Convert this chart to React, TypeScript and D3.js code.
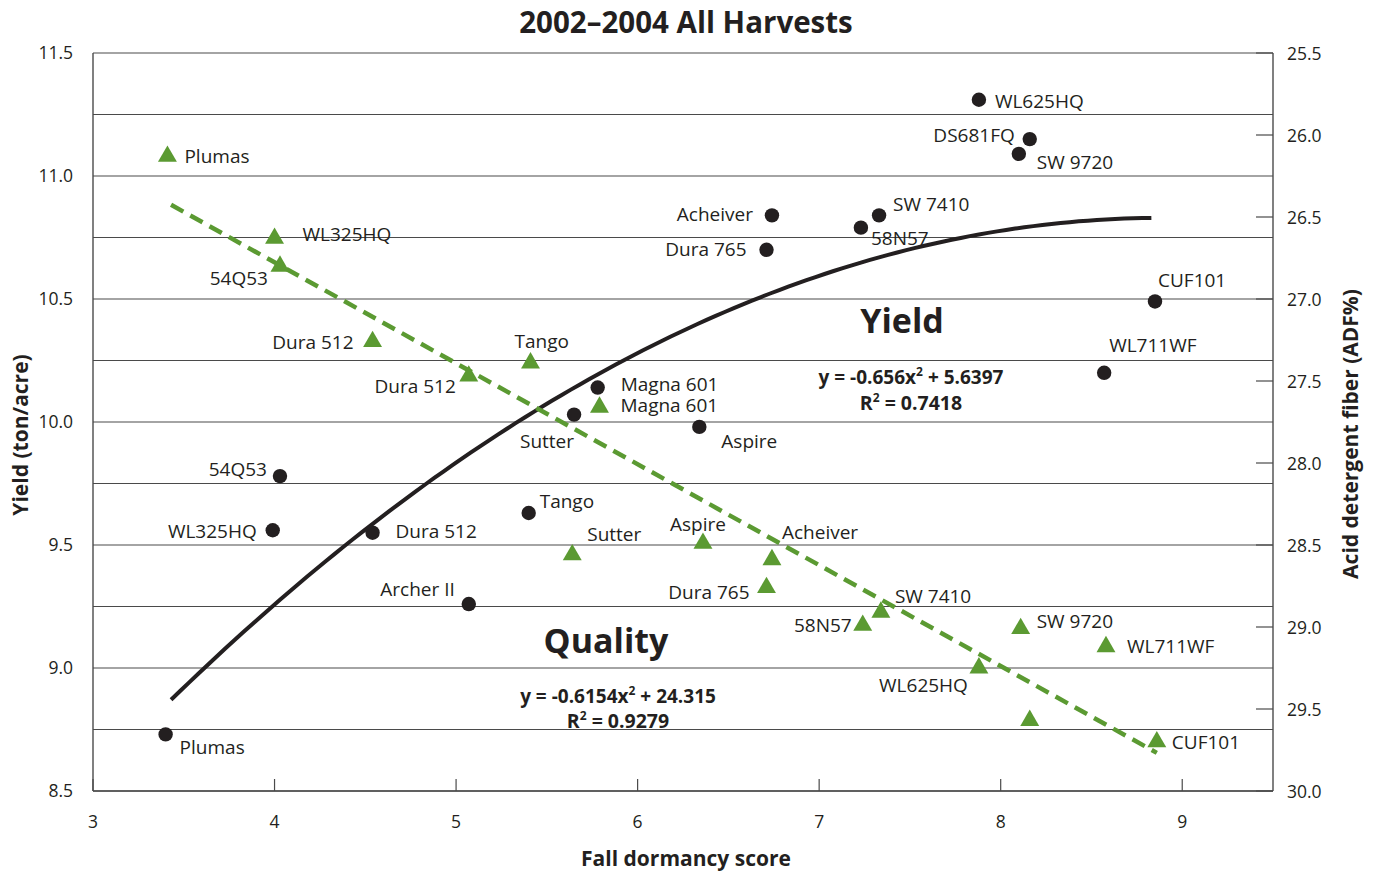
import React from "react";
import * as d3 from "d3";

// ---------- DATA ----------
const xTicks = [3, 4, 5, 6, 7, 8, 9];
const yieldTicks = [8.5, 9.0, 9.5, 10.0, 10.5, 11.0, 11.5];
const adfTicks = [25.5, 26.0, 26.5, 27.0, 27.5, 28.0, 28.5, 29.0, 29.5, 30.0];
const gridValues = [8.5, 8.75, 9.0, 9.25, 9.5, 9.75, 10.0, 10.25, 10.5, 10.75, 11.0, 11.25, 11.5];

const yieldNames = ["Plumas", "WL325HQ", "54Q53", "Dura 512", "Archer II", "Tango", "Sutter", "Magna 601", "Aspire", "Dura 765", "Acheiver", "58N57", "SW 7410", "WL625HQ", "DS681FQ", "SW 9720", "CUF101", "WL711WF"];
const yieldDormancy = [3.40, 3.99, 4.03, 4.54, 5.07, 5.40, 5.65, 5.78, 6.34, 6.71, 6.74, 7.23, 7.33, 7.88, 8.16, 8.10, 8.85, 8.57];
const yieldValues = [8.73, 9.56, 9.78, 9.55, 9.26, 9.63, 10.03, 10.14, 9.98, 10.70, 10.84, 10.79, 10.84, 11.31, 11.15, 11.09, 10.49, 10.20];

const qualityNames = ["Plumas", "WL325HQ", "54Q53", "Dura 512", "Dura 512", "Tango", "Magna 601", "Sutter", "Aspire", "Acheiver", "Dura 765", "58N57", "SW 7410", "WL625HQ", "SW 9720", "", "WL711WF", "CUF101"];
const qualityDormancy = [3.41, 4.00, 4.03, 4.54, 5.07, 5.41, 5.79, 5.64, 6.36, 6.74, 6.71, 7.24, 7.34, 7.88, 8.11, 8.16, 8.58, 8.86];
const qualityADF = [26.13, 26.63, 26.80, 27.26, 27.47, 27.39, 27.66, 28.56, 28.49, 28.59, 28.76, 28.99, 28.91, 29.25, 29.01, 29.57, 29.12, 29.70];

// trendline coefficients (yield quadratic, ADF linear) and their x-range
const yieldFit = [-0.0656, 1.167, 5.6397];
const qualityFit = [0.6154, 24.315];
const fitRange = [3.43, 8.86];

// label placement (offset from marker, text-anchor)
const yieldLabelPos: [number, number, string][] = [
  [14, 20, "start"], [-16, 8, "end"], [-13, 0, "end"], [23, 5, "start"], [-14, -8, "end"],
  [11, -5, "start"], [0, 33, "end"], [23, 3, "start"], [22, 21, "start"], [-20, 6, "end"],
  [-19, 6, "end"], [10, 17, "start"], [14, -4, "start"], [16, 8, "start"], [-15, 3, "end"],
  [18, 15, "start"], [3, -14, "start"], [5, -21, "start"],
];
const qualityLabelPos: [number, number, string][] = [
  [17, 7, "start"], [28, 3, "start"], [-12, 19, "end"], [-19, 7, "end"], [-13, 17, "end"],
  [-16, -15, "start"], [21, 5, "start"], [15, -14, "start"], [-33, -12, "start"], [10, -21, "start"],
  [-17, 11, "end"], [-11, 7, "end"], [14, -9, "start"], [-11, 24, "end"], [16, -1, "start"],
  [0, 0, "start"], [21, 6, "start"], [15, 7, "start"],
];

// ---------- LAYOUT ----------
const W = 1375, H = 871;
const L = 93, R = 1273, T = 53, B = 791;
const FONT = "'Open Sans', 'Noto Sans', sans-serif";
const INK = "#231f20";
const GREEN = "#5b9a32";
const GRID = "#4a4a4a";
const LABEL_SIZE = 19;

export default function App() {
  const x = d3.scaleLinear().domain([3, 9.5]).range([L, R]);
  const yL = d3.scaleLinear().domain([8.5, 11.5]).range([B, T]);
  const yR = d3.scaleLinear().domain([25.5, 30]).range([T, B]);

  const fitXs = d3.range(fitRange[0], fitRange[1] + 0.0001, 0.05);
  const yieldCurve = d3.line<number>()
    .x((d) => x(d))
    .y((d) => yL(yieldFit[0] * d * d + yieldFit[1] * d + yieldFit[2]))(fitXs) as string;
  const qualityLine = d3.line<number>()
    .x((d) => x(d))
    .y((d) => yR(qualityFit[0] * d + qualityFit[1]))([fitRange[0], fitRange[1]]) as string;

  const tri = d3.symbol().type(d3.symbolTriangle).size(155)() as string;

  return (
    <svg width={W} height={H} style={{ position: "absolute", left: 0, top: 0, background: "#fff" }} fontFamily={FONT}>
      {/* title */}
      <text x={686} y={33} textAnchor="middle" fontSize={29.5} fontWeight={700} fill={INK}>
        2002–2004 All Harvests
      </text>

      {/* grid lines */}
      {gridValues.map((v, i) => (
        <line key={"g" + i} x1={L} x2={R} y1={yL(v)} y2={yL(v)} stroke={GRID} strokeWidth={1.2} />
      ))}
      {/* frame */}
      <line x1={L} x2={L} y1={T} y2={B} stroke={GRID} strokeWidth={1.4} />
      <line x1={R} x2={R} y1={T} y2={B} stroke={GRID} strokeWidth={1.4} />
      <line x1={L} x2={R} y1={B} y2={B} stroke={GRID} strokeWidth={1.6} />

      {/* x ticks */}
      {xTicks.map((t) => (
        <g key={"xt" + t}>
          <line x1={x(t)} x2={x(t)} y1={B} y2={B - 12} stroke={GRID} strokeWidth={1.2} />
          <text x={x(t)} y={828} textAnchor="middle" fontSize={17.5} fill={INK}>{t}</text>
        </g>
      ))}
      {/* left tick labels */}
      {yieldTicks.map((t) => (
        <text key={"yl" + t} x={73} y={yL(t) + 6} textAnchor="end" fontSize={17.5} fill={INK}>{t.toFixed(1)}</text>
      ))}
      {/* right ticks */}
      {adfTicks.map((t) => (
        <g key={"yr" + t}>
          <line x1={R - 17} x2={R} y1={yR(t)} y2={yR(t)} stroke={GRID} strokeWidth={1.2} />
          <text x={1287} y={yR(t) + 7} textAnchor="start" fontSize={17.5} fill={INK}>{t.toFixed(1)}</text>
        </g>
      ))}

      {/* axis titles */}
      <text x={686} y={866} textAnchor="middle" fontSize={21} fontWeight={700} fill={INK}>Fall dormancy score</text>
      <text transform="translate(28,435) rotate(-90)" textAnchor="middle" fontSize={21} fontWeight={700} fill={INK}>Yield (ton/acre)</text>
      <text transform="translate(1358,434) rotate(-90)" textAnchor="middle" fontSize={21} fontWeight={700} fill={INK}>Acid detergent fiber (ADF%)</text>

      {/* trend lines */}
      <path d={yieldCurve} fill="none" stroke={INK} strokeWidth={4} />
      <path d={qualityLine} fill="none" stroke={GREEN} strokeWidth={4.5} strokeDasharray="14 8" />

      {/* yield points */}
      {yieldNames.map((n, i) => {
        const cx = x(yieldDormancy[i]);
        const cy = yL(yieldValues[i]);
        const [dx, dy, anchor] = yieldLabelPos[i];
        return (
          <g key={"yp" + i}>
            <circle cx={cx} cy={cy} r={7.2} fill={INK} />
            <text x={cx + dx} y={cy + dy} textAnchor={anchor as any} fontSize={LABEL_SIZE} fill={INK}>{n}</text>
          </g>
        );
      })}

      {/* quality points */}
      {qualityNames.map((n, i) => {
        const cx = x(qualityDormancy[i]);
        const cy = yR(qualityADF[i]);
        const [dx, dy, anchor] = qualityLabelPos[i];
        return (
          <g key={"qp" + i}>
            <path d={tri} transform={`translate(${cx},${cy})`} fill={GREEN} />
            {n && (
              <text x={cx + dx} y={cy + dy} textAnchor={anchor as any} fontSize={LABEL_SIZE} fill={INK}>{n}</text>
            )}
          </g>
        );
      })}

      {/* annotations */}
      <text x={902} y={333} textAnchor="middle" fontSize={34} fontWeight={700} fill={INK}>Yield</text>
      <text x={911} y={384} textAnchor="middle" fontSize={19} fontWeight={700} fill={INK}>
        y = -0.656x<tspan fontSize={12} dy={-8}>2</tspan><tspan dy={8}> + 5.6397</tspan>
      </text>
      <text x={911} y={410} textAnchor="middle" fontSize={19.5} fontWeight={700} fill={INK}>
        R<tspan fontSize={12} dy={-8}>2</tspan><tspan dy={8}> = 0.7418</tspan>
      </text>

      <text x={606} y={653} textAnchor="middle" fontSize={34} fontWeight={700} fill={INK}>Quality</text>
      <text x={618} y={703} textAnchor="middle" fontSize={19} fontWeight={700} fill={INK}>
        y = -0.6154x<tspan fontSize={12} dy={-8}>2</tspan><tspan dy={8}> + 24.315</tspan>
      </text>
      <text x={618} y={728} textAnchor="middle" fontSize={19.5} fontWeight={700} fill={INK}>
        R<tspan fontSize={12} dy={-8}>2</tspan><tspan dy={8}> = 0.9279</tspan>
      </text>
    </svg>
  );
}
